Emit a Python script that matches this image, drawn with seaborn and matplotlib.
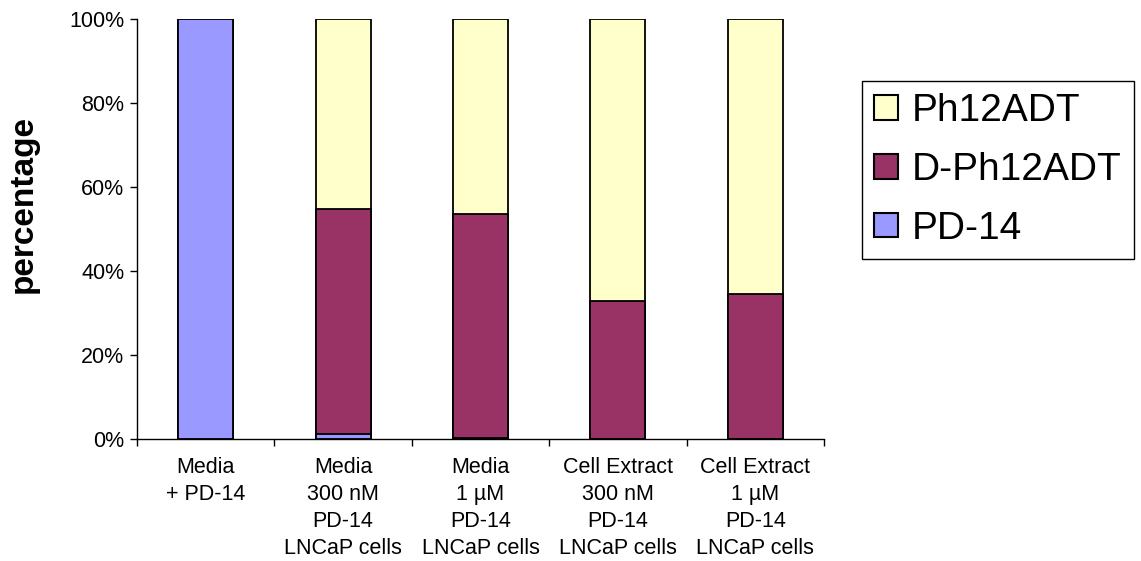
import numpy as np
import pandas as pd
import matplotlib
matplotlib.use("Agg")
import matplotlib.pyplot as plt
from matplotlib.patches import Patch
from matplotlib.ticker import PercentFormatter, FixedLocator
import seaborn as sns

categories = [
    "Media\n+ PD-14",
    "Media\n300 nM\nPD-14\nLNCaP cells",
    "Media\n1 µM\nPD-14\nLNCaP cells",
    "Cell Extract\n300 nM\nPD-14\nLNCaP cells",
    "Cell Extract\n1 µM\nPD-14\nLNCaP cells",
]
pd14 = [100.0, 1.3, 0.3, 0.0, 0.0]
d_ph12adt = [0.0, 53.4, 53.2, 32.9, 34.5]
ph12adt = [0.0, 45.3, 46.5, 67.1, 65.5]

series_names = ["Ph12ADT", "D-Ph12ADT", "PD-14"]
colors = {"Ph12ADT": "#FFFFCC", "D-Ph12ADT": "#993366", "PD-14": "#9999FF"}

sns.set_theme(style="white")
plt.rcParams["font.family"] = ["Liberation Sans", "DejaVu Sans"]
plt.rcParams["text.color"] = "black"
plt.rcParams["axes.labelcolor"] = "black"
plt.rcParams["xtick.color"] = "black"
plt.rcParams["ytick.color"] = "black"

df = pd.DataFrame({"category": categories, "PD-14": pd14,
                   "D-Ph12ADT": d_ph12adt, "Ph12ADT": ph12adt})
df["cum_pd"] = df["PD-14"]
df["cum_d"] = df["cum_pd"] + df["D-Ph12ADT"]
df["cum_ph"] = df["cum_d"] + df["Ph12ADT"]

fig = plt.figure(figsize=(11.41, 5.61), dpi=100)
ax = fig.add_axes([137 / 1141, 1 - 439 / 561, (824 - 137) / 1141, (439 - 19) / 561])

for col, name in [("cum_ph", "Ph12ADT"), ("cum_d", "D-Ph12ADT"), ("cum_pd", "PD-14")]:
    sns.barplot(data=df, x="category", y=col, color=colors[name], saturation=1,
                width=0.4, edgecolor="black", linewidth=1.3, ax=ax, order=categories)

ax.set_xlim(-0.5, len(categories) - 0.5)
ax.set_ylim(0, 100)
ax.yaxis.set_major_formatter(PercentFormatter(decimals=0))
ax.set_yticks([0, 20, 40, 60, 80, 100])
ax.set_xlabel("")
ax.set_ylabel("percentage", fontsize=24, fontweight="bold", color="black")
ax.yaxis.set_label_coords(-0.143, 0.56)

for s in ["top", "right"]:
    ax.spines[s].set_visible(False)
for s in ["left", "bottom"]:
    ax.spines[s].set_color("black")
    ax.spines[s].set_linewidth(1.0)

ax.tick_params(axis="y", which="major", direction="out", length=5, width=1,
               color="black", labelcolor="black", labelsize=15.5, pad=4, left=True)
ax.tick_params(axis="x", which="major", length=0, labelsize=15.5, pad=13,
               labelcolor="black")
ax.xaxis.set_minor_locator(FixedLocator(np.arange(-0.5, len(categories), 1.0)))
ax.tick_params(axis="x", which="minor", direction="out", length=5, width=1,
               color="black", bottom=True)
for lbl in ax.get_xticklabels():
    lbl.set_horizontalalignment("center")
    lbl.set_verticalalignment("top")
    lbl.set_multialignment("center")
    lbl.set_linespacing(1.38)
    lbl.set_color("black")

handles = [Patch(facecolor=colors[n], edgecolor="black", linewidth=1.5, label=n)
           for n in series_names]
leg = fig.legend(handles=handles, loc="upper left",
                 bbox_to_anchor=(862 / 1141, 1 - 81 / 561), fontsize=28,
                 frameon=True, fancybox=False, handlelength=0.6, handleheight=0.6,
                 handletextpad=0.35, labelspacing=0.58, borderpad=0.32,
                 borderaxespad=0, labelcolor="black")
leg.get_frame().set_edgecolor("black")
leg.get_frame().set_linewidth(1.0)
leg.get_frame().set_facecolor("white")
leg.get_frame().set_alpha(1)

fig.savefig("out.png", dpi=100)
